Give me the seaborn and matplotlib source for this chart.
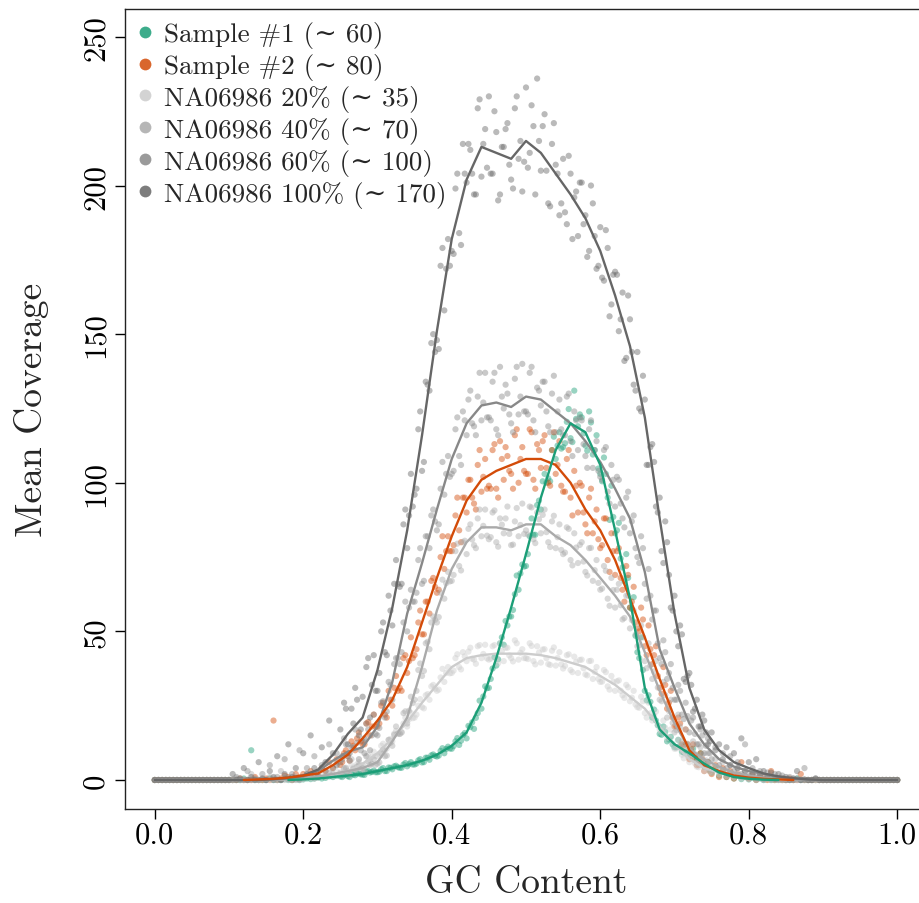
import numpy as np
import pandas as pd
import matplotlib
matplotlib.use("Agg")
import matplotlib.pyplot as plt
from matplotlib.lines import Line2D
import seaborn as sns

sns.set_theme(style="ticks")
plt.rcParams["font.family"] = ["cmr10", "DejaVu Serif"]
plt.rcParams["mathtext.fontset"] = "cm"
plt.rcParams["axes.formatter.use_mathtext"] = True
plt.rcParams["axes.unicode_minus"] = False

# GC content grids
gc_line = np.linspace(0, 1, 51)           # smoothed curves, step 0.02
gc_pts = np.linspace(0, 1, 201)           # binned mean coverage, step 0.005
gc_pts2 = np.linspace(0.2525, 0.7475, 100)  # second set of bins (offset by half a bin)

series = ["Sample #1", "Sample #2", "NA06986 20%", "NA06986 40%", "NA06986 60%", "NA06986 100%"]
approx_cov = ["60", "80", "35", "70", "100", "170"]
colors = ["#1b9e77", "#d34b08", "#cccccc", "#aaaaaa", "#888888", "#666666"]

nan = np.nan
# smoothed curves (samples only cover the GC range where they have data)
line_s1 = [nan] * 9 + [0, 0.2, 0.5, 1, 1.5, 2, 3, 4, 5, 6.5, 8.5, 11.5, 16, 26, 41, 58, 76, 95, 111,
                       120, 117, 106, 84, 61, 31, 17, 12, 9, 5.5, 2.5, 1, 0.4, 0.1, 0] + [nan] * 8
line_s2 = [nan] * 6 + [0, 0.2, 0.4, 0.8, 1.5, 2.2, 5, 8.5, 14, 20, 27, 38, 53, 68, 82, 94, 101, 104, 106,
                       108, 108, 106, 100, 91, 84, 74, 61, 48, 34, 21, 10, 5, 3, 1.5, 0.8, 0.4, 0.2, 0] + [nan] * 7
line_20 = [0] * 9 + [0.3, 0.6, 1, 1.8, 3, 5.5, 9, 14, 19.5, 26, 32, 38, 41, 42, 42.5, 42.5, 42.5, 42,
                     41, 39.5, 38, 35, 32, 28, 24, 18, 12, 7, 4, 2.5, 1.3, 0.6, 0.3] + [0] * 9
line_40 = [0] * 9 + [0.3, 0.6, 1.2, 2, 3, 4, 6, 13, 21, 38, 57, 71, 80, 85, 85, 84, 86, 86, 82, 79,
                     74, 68, 62, 55, 43, 30, 19, 10.5, 7, 4.5, 2.5, 1.5, 0.8, 0.3] + [0] * 8
line_60 = [0] * 8 + [0.2, 0.5, 1.2, 3, 6.5, 9.5, 11, 18, 33, 56, 73, 91, 108, 120, 126, 127, 125.5,
                     129, 128, 124, 120, 114, 107, 98, 88, 70, 44, 31, 19, 12, 7, 4.5, 3, 2, 1, 0.4, 0.1] + [0] * 6
line_100 = [0] * 8 + [0.3, 0.8, 1.5, 3.5, 8.5, 15.5, 21, 37, 58, 84, 116, 151, 182, 202, 213, 211, 209,
                      215, 211, 204, 197, 189, 178, 163, 146, 122, 88, 56, 31, 17, 10, 6, 4, 2.2, 1.2,
                      0.6, 0.2] + [0] * 6

# binned points (bins 0.000-0.095 and 0.905-1.000 are empty)
pts_s1 = [0] * 20 + [
    0, 0, 0, 0, 0.5, 0, 10, 0, 0, 0,
    0, 0.5, 0, 0, 0, 0.5, 0, 0, 0.5, 0,
    0.2, 0.5, 0.3, 0.5, 0.8, 0.5, 0.7, 1.2, 1.0, 1.4,
    1.2, 1.6, 1.3, 2.0, 1.6, 2.2, 1.8, 2.8, 2.5, 3.2,
    2.6, 3.6, 3.0, 4.2, 3.6, 4.8, 4.1, 5.2, 4.6, 6.0,
    5.2, 6.6, 5.9, 7.5, 6.8, 8.6, 7.9, 9.8, 9.0, 11.2,
    10.5, 13.0, 11.8, 15.1, 14.0, 17.8, 17.2, 22.5, 24.0, 31.5,
    31.0, 37.5, 38.5, 46.0, 45.5, 52.0, 55.0, 62.5, 64.0, 72.5,
    72.0, 82.0, 82.5, 92.5, 91.0, 103.0, 101.5, 111.0, 108.0, 117.0,
    112.0, 120.5, 115.0, 131.0, 119.0, 122.0, 112.5, 124.0, 109.5, 116.0,
    103.0, 108.5, 95.0, 99.0, 83.0, 86.5, 71.5, 76.0, 58.0, 61.5,
    43.0, 48.0, 30.0, 28.5, 21.0, 20.0, 15.5, 18.0, 13.0, 14.5,
    11.0, 13.5, 9.5, 12.0, 8.0, 10.5, 7.5, 9.0, 4.5, 6.0,
    2.5, 4.0, 1.5, 3.0, 1.0, 2.0, 0.5, 1.5, 0.3, 1.0,
    0.2, 0.8, 0, 0.5, 0, 0.3, 0, 0, 0.5, 0,
    0, 0, 0, 0.5, 0, 0, 0, 0, 0, 0,
    0] + [0] * 20
pts_s2 = [0] * 20 + [
    0, 0, 0, 0.5, 0, 0, 0, 1, 0, 0,
    0.5, 0, 20, 0, 0.5, 1.5, 1, 0, 2, 1,
    2, 1, 3, 2, 1.5, 4, 3, 6, 4, 7,
    5, 9, 8, 13, 10, 16, 12, 19, 15, 22,
    18, 25, 22, 30, 25, 35, 31, 41, 36, 48,
    42, 53, 49, 60, 56, 68, 63, 75, 71, 82,
    77, 89, 84, 95, 90, 101, 93, 106, 97, 108,
    99, 111, 98, 114, 101, 109, 103, 116, 100, 112,
    103, 118, 101, 113, 105, 116, 100, 111, 103, 114,
    97, 108, 95, 104, 90, 99, 86, 95, 83, 91,
    78, 88, 74, 83, 69, 78, 64, 72, 58, 65,
    51, 58, 45, 52, 39, 45, 31, 38, 24, 30,
    18, 21, 12, 17, 7, 12, 5, 9, 3, 6,
    2, 5, 1, 4, 1, 3, 0.5, 2, 6, 1,
    0.5, 2, 0, 1, 0.5, 0, 3, 0, 0.5, 0,
    0, 0.5, 0, 0, 2, 0, 0, 0, 0, 0,
    0] + [0] * 20
pts_20 = [0] * 20 + [
    0, 0, 0, 0.5, 0, 0, 0, 0, 0, 0.5,
    0, 0, 0.5, 0, 0, 1, 0, 0, 0.5, 0,
    0.3, 1, 0.5, 1.5, 0.8, 1.8, 1.2, 2.5, 1.5, 3,
    2, 3.5, 2.5, 5, 3.5, 6, 5, 8, 6.5, 9.5,
    8, 11.5, 10, 13.5, 13, 16.5, 15.5, 19, 18, 22.5,
    21, 25, 24.5, 28.5, 27, 32, 30, 34.5, 33, 38,
    36, 41, 38, 43, 40, 44.5, 40.5, 45, 41, 45.5,
    40.5, 45, 41, 46, 40, 44.5, 41, 47, 40.5, 44,
    41, 46, 40, 45, 39.5, 44, 39, 43.5, 38.5, 43,
    37.5, 42, 37, 41.5, 36, 40.5, 35.5, 40, 34, 38,
    33, 37, 31.5, 35, 30, 33.5, 28.5, 32, 26.5, 30,
    24.5, 28, 22.5, 26, 20, 23, 17, 20, 14, 17,
    10.5, 13.5, 8.5, 11, 6, 8.5, 4.5, 6.5, 3, 5,
    2.5, 4, 1.8, 3, 1.2, 2.5, 0.8, 2, 0.5, 1,
    0.3, 1, 0, 0.5, 0, 0.3, 0, 0, 0.2, 0,
    0, 0, 0, 0, 0, 0, 0, 0, 0, 0,
    0] + [0] * 20
pts_40 = [0] * 20 + [
    0, 0, 0.5, 0, 0, 0, 2, 0, 0, 0,
    0, 1, 0, 0, 3, 0, 0.5, 0, 1, 0,
    0.5, 2, 1, 0.5, 1.5, 4, 1, 2.5, 2, 6,
    2.5, 4, 3, 7, 3.5, 5, 4, 8, 5, 7,
    5.5, 9.0, 8.0, 13.5, 11.5, 18.0, 15.5, 22.5, 19.0, 28.0,
    27, 37, 35, 46, 44, 55, 53, 63, 61, 70,
    67, 77, 72, 80, 76, 86, 79, 88, 82, 91,
    81, 90, 80, 88, 83, 92, 79, 87, 82, 93,
    84, 92, 81, 90, 83, 91, 80, 87, 78, 86,
    76, 85, 74, 83, 73, 80, 70, 78, 67, 74,
    64, 72, 61, 68, 58, 66, 54, 62, 51, 57,
    45, 52, 40, 46, 34, 40, 27, 33, 21, 27,
    16, 22, 13, 17, 9, 13, 6, 11, 5, 9,
    3.5, 7, 3, 6, 2, 5, 1.5, 4, 1, 3,
    0.5, 2.5, 0.3, 1.5, 0, 1, 0, 0.5, 0, 0.2,
    0, 0, 0.5, 0, 0, 0, 0, 0, 0, 0,
    0] + [0] * 20
pts_60 = [0] * 20 + [
    0, 0, 1, 0, 0, 3, 0, 0.5, 0, 2,
    0, 5, 0, 1, 0, 7, 0.5, 2, 0, 10,
    1, 4, 2, 8, 1, 5, 3, 12, 4, 9,
    6, 14, 8, 11, 17, 7, 13, 19, 10, 22,
    15, 26, 21, 33, 27, 41, 39, 53, 50, 64,
    60, 74, 66, 82, 78, 91, 84, 98, 96, 109,
    103, 118, 109, 124, 116, 131, 119, 129, 121, 137,
    122, 134, 118, 139, 125, 130, 120, 135, 123, 140,
    124, 137, 121, 132, 126, 134, 119, 130, 117, 128,
    116, 129, 114, 124, 111, 121, 109, 118, 105, 114,
    102, 111, 97, 106, 92, 101, 88, 95, 83, 89,
    75, 82, 66, 71, 54, 57, 41, 47, 34, 39,
    27, 32, 22, 26, 16, 21, 12, 17, 9, 14,
    7, 11, 5, 9, 4, 8, 3, 6, 2, 12,
    1.5, 4, 1, 3, 0.5, 2.5, 0.5, 2, 0, 1.5,
    0, 1, 0, 0.5, 0, 4, 0, 0, 0.5, 0,
    0] + [0] * 20
pts_100 = [0] * 20 + [
    0, 2, 0, 0.5, 4, 0, 1, 0, 6, 0.5,
    0, 3, 1, 8, 0, 2, 12, 1, 4, 0.5,
    9, 2, 15, 4, 1, 11, 6, 20, 9, 5,
    17, 26, 12, 24, 31, 15, 28, 38, 21, 42,
    30, 50, 43, 62, 52, 74, 65, 86, 78, 103,
    96, 118, 104, 134, 131, 150, 148, 173, 158, 182,
    178, 199, 184, 214, 201, 212, 197, 226, 203, 219,
    230, 204, 218, 197, 213, 221, 202, 226, 209, 198,
    233, 211, 220, 236, 205, 224, 194, 214, 207, 190,
    209, 187, 204, 196, 183, 201, 190, 178, 194, 172,
    186, 168, 179, 160, 171, 151, 164, 142, 155, 133,
    144, 124, 128, 106, 113, 92, 95, 73, 80, 58,
    62, 45, 49, 33, 36, 23, 27, 18, 20, 12,
    16, 10, 12, 7, 11, 5, 9, 4, 14, 3,
    6, 2, 7, 1.5, 3, 1, 2.5, 0.5, 2, 0.5,
    1, 0, 0.5, 3, 0, 0.2, 0, 0, 0.5, 0,
    0] + [0] * 20

# second set of bins, 0.2525-0.7475
pts2_s1 = [1.0, 1.9, 1.0, 1.8, 2.2, 1.9, 1.7, 3.0, 2.7, 2.6,
           2.8, 4.0, 3.0, 4.1, 4.6, 4.3, 4.1, 5.7, 5.3, 5.2,
           5.5, 7.0, 6.0, 7.5, 8.3, 8.1, 8.2, 10.7, 10.4, 10.6,
           11.4, 14.1, 13.2, 15.8, 18.2, 19.4, 20.9, 26.7, 28.1, 30.9,
           34.0, 41.3, 40.6, 48.0, 53.5, 55.0, 57.2, 68.8, 69.5, 71.8,
           76.0, 88.0, 82.5, 94.0, 100.5, 100.0, 100.5, 115.5, 112.5, 111.5,
           113.3, 124.8, 113.7, 121.5, 123.0, 116.6, 110.8, 120.3, 111.0, 104.8,
           100.5, 103.0, 87.5, 88.5, 84.0, 74.5, 66.8, 68.0, 57.5, 48.5,
           41.0, 37.0, 26.8, 26.3, 23.7, 18.4, 15.2, 16.2, 13.6, 12.0,
           11.0, 11.6, 9.2, 9.8, 9.1, 7.3, 5.9, 6.5, 4.8, 3.2]
pts2_s2 = [6, 10, 6.5, 11.5, 14, 13, 12, 19.5, 18, 18,
           19, 26, 21, 27, 31, 30, 30, 42, 40, 41,
           44, 57, 49, 60, 67, 65, 64, 82, 77, 77,
           79, 95, 80, 95, 101, 95, 91, 111, 102, 98,
           98, 113, 95, 108, 112, 104, 98, 118, 108, 104,
           103, 117, 98, 111, 114, 105, 99, 117, 106, 99,
           97, 111, 89, 99, 100, 90, 83, 98, 87, 81,
           79, 88, 70, 77, 77, 68, 60, 69, 60, 53,
           50, 54, 42, 44, 42, 35, 29, 32, 26, 21,
           18, 19, 11.5, 12, 10.5, 7.5, 5, 7, 4.5, 3]
pts2_20 = [2.0, 3.8, 2.2, 4.2, 5.3, 5.0, 5.0, 8.2, 7.8, 8.0,
           8.8, 12.2, 10.6, 13.8, 15.6, 15.8, 15.9, 21.0, 20.4, 20.8,
           22.0, 27.2, 24.1, 28.9, 31.5, 30.7, 30.4, 37.4, 36.0, 35.9,
           36.8, 42.3, 37.2, 41.6, 43.2, 40.8, 39.1, 45.4, 42.4, 40.9,
           40.8, 45.4, 39.3, 43.4, 44.5, 41.9, 39.9, 46.0, 42.8, 41.0,
           40.7, 45.1, 38.9, 42.9, 43.9, 41.0, 38.7, 44.6, 41.0, 38.9,
           38.4, 42.3, 36.3, 39.7, 40.4, 37.6, 35.2, 40.1, 36.4, 34.0,
           33.1, 36.3, 30.4, 33.1, 33.2, 30.0, 27.6, 31.2, 27.7, 25.4,
           24.3, 26.5, 21.0, 22.4, 21.7, 18.4, 15.9, 17.6, 14.4, 12.0,
           10.6, 11.6, 7.3, 8.0, 7.3, 5.6, 4.3, 5.6, 3.9, 2.8]
pts2_40 = [1.9, 4.1, 1.8, 3.8, 4.5, 3.6, 3.1, 6.3, 5.4, 5.1,
           5.9, 10.2, 8.2, 12.5, 15.2, 15.6, 16.1, 23.1, 23.3, 25.9,
           30.0, 39.2, 36.7, 46.5, 53.0, 53.9, 54.8, 67.4, 66.2, 66.8,
           69, 79.5, 70.5, 80.5, 84.5, 80.9, 78, 91, 85.5, 82.2,
           81.7, 90.7, 78.5, 85.9, 88, 82.8, 79.2, 91.5, 85.8, 82.8,
           82.6, 91.7, 79.7, 87.7, 89.2, 83.4, 78.4, 88.9, 81.7, 77.4,
           76.5, 84.5, 72.2, 78.2, 79.1, 73.5, 68.8, 78.1, 70.6, 66.3,
           64.4, 70.4, 58.6, 63.9, 64.0, 58.8, 54.5, 62.1, 53.8, 48.9,
           45.3, 48.0, 37.6, 38.6, 36.5, 31.1, 26.5, 28.6, 23.2, 19.2,
           16.8, 17.9, 11.8, 12.2, 11.0, 8.7, 6.7, 8.6, 6.6, 5.0]
pts2_60 = [7, 12, 6.5, 11, 12.5, 10, 9, 17, 15, 15.5,
           17.5, 26.5, 23, 32, 39, 41, 43, 60, 58, 60,
           63, 78, 67, 82, 89, 87, 86, 107, 103, 102,
           104, 122, 106, 121, 128, 120, 116, 137, 127, 122,
           121, 137, 116, 129, 133, 123, 117, 139, 129, 124,
           123, 139, 117, 131, 134, 124, 117, 136, 124, 118,
           116, 130, 109, 121, 122, 113, 105, 121, 111, 104,
           101, 112, 93, 101, 102, 93, 85, 97, 87, 78,
           73, 78, 61, 62, 57, 46, 39, 43, 36, 31,
           27, 30, 20.5, 21.5, 20, 15.5, 12, 15, 11.5, 9]
pts2_100 = [8, 24, 9, 19, 27, 17, 14, 41, 32, 30,
            36, 53, 42, 57, 66, 66, 66, 91, 89, 92,
            98, 124, 107, 133, 147, 144, 145, 179, 172, 173,
            177, 204, 180, 204, 214, 204, 197, 229, 214, 206,
            204, 225, 195, 213, 219, 207, 199, 230, 215, 208,
            206, 227, 197, 215, 220, 205, 193, 221, 204, 194,
            191, 210, 182, 198, 201, 187, 176, 200, 183, 173,
            169, 185, 156, 170, 170, 155, 141, 163, 144, 131,
            125, 136, 106, 112, 107, 90, 77, 87, 69, 57,
            50, 52, 34, 35, 32, 24, 18, 22, 16, 13]

lines = [line_s1, line_s2, line_20, line_40, line_60, line_100]
points = [pts_s1, pts_s2, pts_20, pts_40, pts_60, pts_100]
points2 = [pts2_s1, pts2_s2, pts2_20, pts2_40, pts2_60, pts2_100]
palette = dict(zip(series, colors))
line_order = series[2:] + [series[1], series[0]]

df_pts = pd.concat([pd.DataFrame({"gc": np.r_[gc_pts, gc_pts2], "cov": np.r_[p, p2], "series": s})
                    for s, p, p2 in zip(series, points, points2)])
df_line = pd.concat([pd.DataFrame({"gc": gc_line, "cov": l, "series": s})
                     for s, l in zip(series, lines)]).dropna()

fig = plt.figure(figsize=(9.19, 9.04), dpi=100)
ax = fig.add_axes([125 / 919, 94 / 904, 802 / 919, 800 / 904])

# points: samples first, then the dilution series on top
sns.scatterplot(data=df_pts, x="gc", y="cov", hue="series", hue_order=series, palette=palette,
                s=20, alpha=0.45, linewidth=0, legend=False, ax=ax)
sns.lineplot(data=df_line, x="gc", y="cov", hue="series", hue_order=line_order, palette=palette,
             linewidth=1.7, legend=False, ax=ax, sort=True)

ax.set_xlim(-0.04, 1.04)
ax.set_ylim(-9.76, 259.4)
ax.set_xticks([0.0, 0.2, 0.4, 0.6, 0.8, 1.0])
ax.set_xticklabels(["0.0", "0.2", "0.4", "0.6", "0.8", "1.0"])
ax.set_yticks([0, 50, 100, 150, 200, 250])
ax.set_yticklabels(["0", "50", "100", "150", "200", "250"], rotation=90, va="center")
ax.tick_params(axis="both", direction="out", length=7, width=1, labelsize=22, colors="black")
ax.tick_params(axis="x", pad=2)
ax.tick_params(axis="y", pad=4)
for sp in ax.spines.values():
    sp.set_color("#222222")
    sp.set_linewidth(1.0)

ax.set_xlabel("GC Content", fontsize=27, labelpad=12)
ax.set_ylabel("Mean Coverage", fontsize=27, labelpad=24)

handles = [Line2D([], [], marker="o", ls="", color=c, markersize=8.5, alpha=0.85, markeredgewidth=0)
           for c in colors]
labels = [f"{s} (\u223c {a})" for s, a in zip(series, approx_cov)]
ax.legend(handles, labels, loc="upper left", bbox_to_anchor=(0.0, 1.0), frameon=False, fontsize=19.5,
          handlelength=0.6, handletextpad=0.4, labelspacing=0.18, borderaxespad=0.25, borderpad=0.2)

fig.savefig("out.png", dpi=100)
